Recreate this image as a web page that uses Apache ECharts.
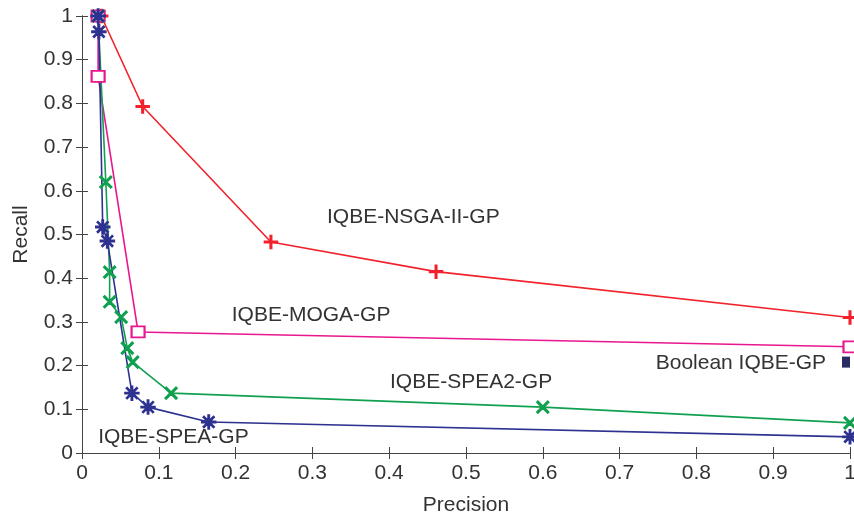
<!DOCTYPE html>
<html>
<head>
<meta charset="utf-8">
<script src="https://cdn.jsdelivr.net/npm/echarts@6/dist/echarts.min.js"></script>
<style>
  html, body { margin: 0; padding: 0; background: #fff; }
  #chart { width: 854px; height: 512px; }
</style>
</head>
<body>
<div id="chart"></div>
<script>
// tick labels
var xTicks = ['0', '0.1', '0.2', '0.3', '0.4', '0.5', '0.6', '0.7', '0.8', '0.9', '1'];
var yTicks = ['0', '0.1', '0.2', '0.3', '0.4', '0.5', '0.6', '0.7', '0.8', '0.9', '1'];

// [precision, recall]
var nsga2 = [[0.025, 1], [0.079, 0.793], [0.246, 0.483], [0.461, 0.415], [1, 0.310]];
var moga = [[0.021, 1], [0.021, 0.862], [0.073, 0.277], [1, 0.243]];
var spea2 = [[0.021, 1], [0.031, 0.620], [0.036, 0.414], [0.036, 0.346], [0.051, 0.311],
             [0.059, 0.240], [0.066, 0.208], [0.116, 0.137], [0.600, 0.105], [1, 0.069]];
var spea = [[0.021, 1], [0.022, 0.964], [0.027, 0.517], [0.033, 0.485], [0.065, 0.137],
            [0.086, 0.105], [0.165, 0.071], [1, 0.037]];
var booleanGP = [[1, 0.208]];

// series names and where their labels sit (data coords, left edge of text)
var labelNames = ['IQBE-NSGA-II-GP', 'IQBE-MOGA-GP', 'IQBE-SPEA2-GP', 'IQBE-SPEA-GP', 'Boolean IQBE-GP'];
var labelPos = [[0.319, 0.540], [0.195, 0.316], [0.401, 0.162], [0.021, 0.037], [0.747, 0.206]];

var plusPath = 'path://M4.4,0H5.6V4.4H10V5.6H5.6V10H4.4V5.6H0V4.4H4.4Z';
var crossPath = 'path://M0,0.9L0.9,0L5,4.1L9.1,0L10,0.9L5.9,5L10,9.1L9.1,10L5,5.9L0.9,10L0,9.1L4.1,5Z';
var starPath = 'path://M4.5,0H5.5V4.5H10V5.5H5.5V10H4.5V5.5H0V4.5H4.5Z' +
               'M1,1.6L1.6,1L5,4.4L8.4,1L9,1.6L5.6,5L9,8.4L8.4,9L5,5.6L1.6,9L1,8.4L4.4,5Z';

var font = 'Liberation Sans, Arial, sans-serif';
var textColor = '#333';
var axisColor = '#444';

function tickFmt(list) {
    return function (v) { return list[Math.round(v * 10)]; };
}

var chart = echarts.init(document.getElementById('chart'));

var axisCommon = {
    min: 0, max: 1, interval: 0.1,
    axisLine: { show: true, lineStyle: { color: axisColor, width: 1 } },
    axisTick: { show: true, inside: true, length: 6, lineStyle: { color: axisColor } },
    splitLine: { show: false }
};

function lineSeries(name, data, color, symbol, size) {
    return {
        name: name, type: 'line', data: data,
        symbol: symbol, symbolSize: size,
        showAllSymbol: true,
        clip: false,
        lineStyle: { color: color, width: 1.6 },
        itemStyle: { color: color, borderColor: color, borderWidth: 1.5 },
        emphasis: { disabled: true },
        z: 3
    };
}

var option = {
    animation: false,
    grid: { left: 82, right: 4, top: 16, bottom: 59, outerBoundsMode: 'none', containLabel: false },
    xAxis: [
        Object.assign({}, axisCommon, {
            type: 'value', position: 'bottom',
            name: 'Precision', nameLocation: 'middle', nameGap: 42,
            nameTextStyle: { fontFamily: font, fontSize: 21, color: textColor },
            axisLabel: { formatter: tickFmt(xTicks), fontFamily: font, fontSize: 21, color: textColor, margin: 10 }
        }),
        Object.assign({}, axisCommon, {
            type: 'value', position: 'top',
            axisLabel: { show: false }
        })
    ],
    yAxis: [
        Object.assign({}, axisCommon, {
            type: 'value', position: 'left',
            name: 'Recall', nameLocation: 'middle', nameGap: 50,
            nameTextStyle: { fontFamily: font, fontSize: 21, color: textColor },
            axisLabel: { formatter: tickFmt(yTicks), fontFamily: font, fontSize: 21, color: textColor, margin: 9 }
        }),
        Object.assign({}, axisCommon, {
            type: 'value', position: 'right',
            axisLabel: { show: false }
        })
    ],
    series: [
        lineSeries('IQBE-NSGA-II-GP', nsga2, '#f2212b', plusPath, 13),
        lineSeries('IQBE-MOGA-GP', moga, '#e8168f', 'emptyRect', [13, 11]),
        lineSeries('IQBE-SPEA2-GP', spea2, '#10a04f', crossPath, 12),
        lineSeries('IQBE-SPEA-GP', spea, '#2d3190', starPath, 14),
        {
            name: 'Boolean IQBE-GP', type: 'scatter', data: booleanGP,
            symbol: 'rect', symbolSize: [8, 11], symbolOffset: [-4, 0],
            itemStyle: { color: '#2b2d62', opacity: 1 },
            clip: false, z: 3
        },
        {
            name: 'labels', type: 'scatter', silent: true,
            data: labelPos.map(function (p, i) { return { value: p, name: labelNames[i] }; }),
            symbolSize: 0,
            itemStyle: { opacity: 1 },
            label: {
                show: true, position: 'right', distance: 0,
                formatter: function (p) { return p.name; },
                fontFamily: font, fontSize: 21, color: textColor, opacity: 1
            },
            z: 4
        }
    ]
};

chart.setOption(option);
</script>
</body>
</html>
